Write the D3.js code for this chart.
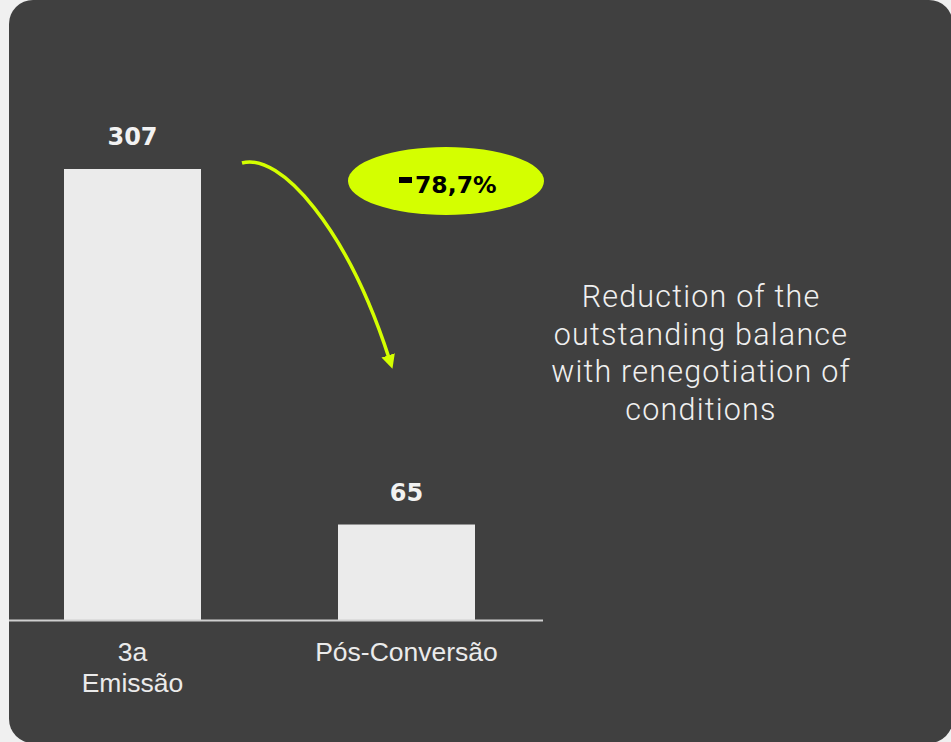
<!DOCTYPE html>
<html>
<head>
<meta charset="utf-8">
<script src="https://cdn.jsdelivr.net/npm/d3@7"></script>
<style>
  html, body { margin: 0; padding: 0; background: #f0f0f0; }
  svg { display: block; }
</style>
</head>
<body>
<div id="chart"></div>
<script>
'use strict'

// data
let categories = [["3a", "Emissão"], ["Pós-Conversão"]];
let values = [307, 65];
let deltaLabel = "78,7%";
let noteLines = ["Reduction of the", "outstanding balance", "with renegotiation of", "conditions"];

var W = 951, H = 742;
var baseY = 620;

var svg = d3.select("#chart").append("svg")
    .attr("width", W)
    .attr("height", H);

// dark panel
svg.append("rect")
    .attr("x", 9).attr("y", 0)
    .attr("width", 944).attr("height", 743)
    .attr("rx", 24).attr("ry", 24)
    .attr("fill", "#404040");

var x = d3.scaleBand()
    .domain(d3.range(values.length))
    .range([-4.5, 543.5])
    .paddingInner(0.5)
    .paddingOuter(0.25);

var y = d3.scaleLinear()
    .domain([0, 307])
    .range([baseY, 169]);

svg.selectAll(".bar")
    .data(values)
    .enter().append("rect")
    .attr("class", "bar")
    .attr("x", function(d, i) { return x(i); })
    .attr("y", function(d) { return y(d); })
    .attr("width", x.bandwidth())
    .attr("height", function(d) { return baseY - y(d); })
    .attr("fill", "#ebebeb");

// baseline
svg.append("line")
    .attr("x1", 9).attr("x2", 543)
    .attr("y1", baseY + 0.5).attr("y2", baseY + 0.5)
    .attr("stroke", "#cfcfcf")
    .attr("stroke-width", 2);

// value labels
svg.selectAll(".val")
    .data(values)
    .enter().append("text")
    .attr("class", "val")
    .attr("x", function(d, i) { return x(i) + x.bandwidth() / 2; })
    .attr("y", function(d) { return y(d) - 24; })
    .attr("text-anchor", "middle")
    .attr("font-family", "'DejaVu Sans', sans-serif")
    .attr("font-weight", "bold")
    .attr("font-size", 24)
    .attr("fill", "#f2f2f2")
    .text(function(d) { return d; });

// category labels
var cat = svg.selectAll(".cat")
    .data(categories)
    .enter().append("text")
    .attr("class", "cat")
    .attr("text-anchor", "middle")
    .attr("font-family", "'Liberation Sans', Arimo, Arial, sans-serif")
    .attr("font-size", 26.5)
    .attr("fill", "#ebebeb");
cat.each(function(lines, i) {
  var t = d3.select(this);
  lines.forEach(function(s, j) {
    t.append("tspan")
      .attr("x", x(i) + x.bandwidth() / 2)
      .attr("y", 661 + j * 31)
      .text(s);
  });
});

// arrow
var defs = svg.append("defs");
defs.append("marker")
    .attr("id", "head")
    .attr("viewBox", "0 0 10 10")
    .attr("refX", 2).attr("refY", 5)
    .attr("markerWidth", 4).attr("markerHeight", 4)
    .attr("markerUnits", "strokeWidth")
    .attr("orient", "auto")
  .append("path")
    .attr("d", "M0,0 L10,5 L0,10 z")
    .attr("fill", "#d4ff00");

svg.append("path")
    .attr("d", "M242,163 C280,152 347,228 389,358")
    .attr("fill", "none")
    .attr("stroke", "#d4ff00")
    .attr("stroke-width", 3.5)
    .attr("marker-end", "url(#head)");

// ellipse badge
svg.append("ellipse")
    .attr("cx", 446).attr("cy", 181)
    .attr("rx", 98).attr("ry", 34)
    .attr("fill", "#d4ff00");

svg.append("rect")
    .attr("x", 399).attr("y", 177)
    .attr("width", 13).attr("height", 6)
    .attr("fill", "#000");

svg.append("text")
    .attr("x", 415).attr("y", 193)
    .attr("text-anchor", "start")
    .attr("font-family", "'DejaVu Sans', sans-serif")
    .attr("font-weight", "bold")
    .attr("font-size", 23.5)
    .attr("fill", "#000")
    .text(deltaLabel);

// side note
svg.selectAll(".note")
    .data(noteLines)
    .enter().append("text")
    .attr("class", "note")
    .attr("x", 701)
    .attr("y", function(d, i) { return 307 + i * 37.5; })
    .attr("text-anchor", "middle")
    .attr("font-family", "Roboto, 'Noto Sans', sans-serif")
    .attr("font-weight", 300)
    .attr("font-size", 30.5)
    .attr("letter-spacing", 1.2)
    .attr("fill", "#f0f0f0")
    .text(function(d) { return d; });
</script>
</body>
</html>
